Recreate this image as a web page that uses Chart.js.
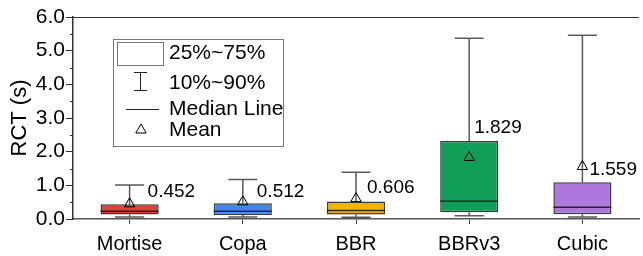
<!DOCTYPE html>
<html>
<head>
<meta charset="utf-8">
<script src="https://cdn.jsdelivr.net/npm/chart.js@4/dist/chart.umd.min.js"></script>
<style>
html,body{margin:0;padding:0;overflow:hidden;background:#fff;}
#wrap{position:relative;width:646px;height:256px;}
</style>
</head>
<body>
<div id="wrap"><canvas id="c"></canvas></div>
<script>
// ---- data ----
const categories = ['Mortise', 'Copa', 'BBR', 'BBRv3', 'Cubic'];
const p10    = [0.06, 0.06, 0.05, 0.10, 0.06];
const q1     = [0.13, 0.12, 0.13, 0.20, 0.14];
const median = [0.23, 0.23, 0.25, 0.53, 0.35];
const q3     = [0.44, 0.47, 0.52, 2.32, 1.09];
const p90    = [1.01, 1.17, 1.39, 5.37, 5.46];
const mean   = [0.452, 0.512, 0.606, 1.829, 1.559];
const meanLabels = ['0.452', '0.512', '0.606', '1.829', '1.559'];
const yTicks = [0, 1, 2, 3, 4, 5, 6];
const legendLabels = ['25%~75%', '10%~90%', 'Median Line', 'Mean'];

// ---- style ----
const boxColors = ['#db4437', '#4285f4', '#f4b400', '#0f9d58', '#ae77de'];
const labelOffsets = [[18, -12], [14, -10], [11, -11], [5, -30], [7, 3]]; // px from (x center, mean y)
const FONT = "'Liberation Sans', Arial, sans-serif";

const boxPlugin = {
  id: 'boxExtras',
  beforeDatasetsDraw(chart) {
    const {ctx, scales: {x, y}} = chart;
    const meta = chart.getDatasetMeta(0);
    ctx.save();
    ctx.strokeStyle = '#5a5a5a';
    ctx.lineWidth = 1.5;
    categories.forEach((c, i) => {
      const bar = meta.data[i];
      const cx = x.getPixelForValue(i);
      const capHalf = bar.width / 4;
      const yTop = y.getPixelForValue(p90[i]);
      const yBot = y.getPixelForValue(p10[i]);
      const yQ1 = y.getPixelForValue(q1[i]);
      const yQ3 = y.getPixelForValue(q3[i]);
      ctx.beginPath();
      ctx.moveTo(cx, yQ3); ctx.lineTo(cx, yTop);
      ctx.moveTo(cx - capHalf, yTop); ctx.lineTo(cx + capHalf, yTop);
      ctx.moveTo(cx, yQ1); ctx.lineTo(cx, yBot);
      ctx.moveTo(cx - capHalf, yBot); ctx.lineTo(cx + capHalf, yBot);
      ctx.stroke();
    });
    ctx.restore();
  },
  afterDatasetsDraw(chart) {
    const {ctx, chartArea, scales: {x, y}} = chart;
    const meta = chart.getDatasetMeta(0);
    ctx.save();
    // median lines
    ctx.strokeStyle = 'rgba(20,20,20,0.85)';
    ctx.lineWidth = 1.5;
    categories.forEach((c, i) => {
      const bar = meta.data[i];
      const cx = x.getPixelForValue(i);
      const ym = y.getPixelForValue(median[i]);
      ctx.beginPath();
      ctx.moveTo(cx - bar.width / 2, ym); ctx.lineTo(cx + bar.width / 2, ym);
      ctx.stroke();
    });
    // mean value labels
    ctx.fillStyle = '#000';
    ctx.font = '19px ' + FONT;
    ctx.textAlign = 'left';
    ctx.textBaseline = 'middle';
    categories.forEach((c, i) => {
      const cx = x.getPixelForValue(i);
      const ym = y.getPixelForValue(mean[i]);
      ctx.fillText(meanLabels[i], cx + labelOffsets[i][0], ym + labelOffsets[i][1]);
    });
    // top frame line
    ctx.strokeStyle = '#333';
    ctx.lineWidth = 1;
    ctx.beginPath();
    ctx.moveTo(chartArea.left, chartArea.top + 0.5);
    ctx.lineTo(chartArea.right, chartArea.top + 0.5);
    ctx.stroke();
    // minor ticks on y
    ctx.beginPath();
    for (let k = 0; k < yTicks.length - 1; k++) {
      const v = (yTicks[k] + yTicks[k + 1]) / 2;
      const py = Math.round(y.getPixelForValue(v)) + 0.5;
      ctx.moveTo(chartArea.left - 3, py); ctx.lineTo(chartArea.left, py);
    }
    ctx.stroke();
    // legend
    const L = chartArea.left, T = chartArea.top;
    const bx = L + 40, by = T + 22, bw = 170, bh = 107;
    ctx.strokeStyle = '#777';
    ctx.lineWidth = 1;
    ctx.strokeRect(bx + 0.5, by + 0.5, bw, bh);
    const sx = bx + 27; // symbol center x
    ctx.strokeRect(bx + 4.5, by + 3.5, 46, 23);
    ctx.strokeStyle = '#222';
    ctx.beginPath();
    ctx.moveTo(sx + 0.5, by + 33); ctx.lineTo(sx + 0.5, by + 52);
    ctx.moveTo(sx - 6, by + 33.5); ctx.lineTo(sx + 7, by + 33.5);
    ctx.moveTo(sx - 6, by + 51.5); ctx.lineTo(sx + 7, by + 51.5);
    ctx.moveTo(sx - 14, by + 70.5); ctx.lineTo(sx + 19, by + 70.5);
    ctx.stroke();
    const tx = sx + 1, ty = by + 91, r = 6;
    ctx.beginPath();
    ctx.moveTo(tx, ty - r);
    ctx.lineTo(tx + r * 0.866, ty + r * 0.5);
    ctx.lineTo(tx - r * 0.866, ty + r * 0.5);
    ctx.closePath();
    ctx.strokeStyle = '#000';
    ctx.stroke();
    ctx.fillStyle = '#000';
    ctx.font = '21px ' + FONT;
    ctx.textBaseline = 'middle';
    const ly = [14.5, 44.5, 70.5, 91.5];
    legendLabels.forEach((t, k) => ctx.fillText(t, bx + 56, by + ly[k]));
    ctx.restore();
  }
};

new Chart(document.getElementById('c'), {
  data: {
    labels: categories,
    datasets: [
      {
        type: 'bar',
        data: categories.map((c, i) => [q1[i], q3[i]]),
        backgroundColor: boxColors,
        borderColor: 'rgba(25,25,25,0.85)',
        borderWidth: 1.5,
        borderSkipped: false,
        barPercentage: 0.513,
        categoryPercentage: 1,
        order: 2
      },
      {
        type: 'line',
        data: mean,
        showLine: false,
        pointStyle: 'triangle',
        pointRadius: 6,
        pointBorderWidth: 1,
        pointBorderColor: '#000',
        pointBackgroundColor: 'rgba(0,0,0,0)',
        order: 1
      }
    ]
  },
  options: {
    responsive: true,
    maintainAspectRatio: false,
    animation: false,
    events: [],
    layout: {padding: {left: 0, right: 1.5, top: 17, bottom: 0}},
    plugins: {legend: {display: false}, tooltip: {enabled: false}},
    scales: {
      x: {
        type: 'category',
        offset: true,
        afterFit(s) { s.height = 37; },
        grid: {drawOnChartArea: false, offset: false, tickLength: 5, color: '#444'},
        border: {display: true, color: '#555', width: 1.5},
        ticks: {color: '#000', font: {family: FONT, size: 20}, padding: 8, maxRotation: 0}
      },
      y: {
        min: 0, max: 6,
        afterFit(s) { s.width = 73; },
        afterBuildTicks(s) { s.ticks = yTicks.map(v => ({value: v})); },
        grid: {drawOnChartArea: false, tickLength: 7, color: '#333'},
        border: {display: true, color: '#333', width: 1.5},
        ticks: {color: '#000', font: {family: FONT, size: 21}, padding: 1,
                callback: v => Number(v).toFixed(1)},
        title: {display: true, text: 'RCT (s)', color: '#000',
                font: {family: FONT, size: 22}, padding: {top: 7, bottom: 0}}
      }
    }
  },
  plugins: [boxPlugin]
});
</script>
</body>
</html>
